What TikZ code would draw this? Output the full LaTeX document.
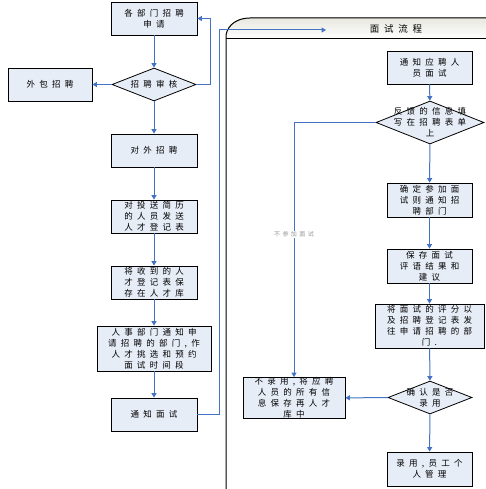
\documentclass[tikz,border=0pt]{standalone}
\usepackage{fontspec}
\newfontfamily\cjk[LetterSpace=50]{Noto Sans CJK SC}
\newfontfamily\cjklab[LetterSpace=40]{Noto Sans CJK SC}
\usetikzlibrary{arrows.meta,shapes.geometric}
\definecolor{boxfill}{RGB}{231,237,247}
\definecolor{conn}{RGB}{68,114,196}
\definecolor{hdrtop}{RGB}{232,232,224}
\definecolor{labgray}{RGB}{150,150,150}
\begin{document}
\begin{tikzpicture}[x=1pt,y=-1pt,
  txt/.style={font=\cjk\fontsize{8.5}{11}\selectfont, align=center},
  box/.style={txt, draw=black, line width=0.8pt, fill=boxfill, inner sep=0pt},
  dia/.style={diamond, draw=black, line width=0.8pt, fill=boxfill, inner sep=0pt},
  conn/.style={draw=conn, line width=1pt, -{Triangle[length=4.5pt,width=5pt]}},
  pool/.style={draw=black, line width=1pt},
  lab/.style={font=\cjklab\fontsize{6}{7}\selectfont, text=labgray, fill=white, inner sep=1pt}
]
\useasboundingbox (0,0) rectangle (486,489);
\fill[white] (0,0) rectangle (486,489);

% pool
\fill[top color=hdrtop,bottom color=white] (226,39) -- (226,35) .. controls (228,24) and (238,18) .. (250,18) -- (486,18) -- (486,39) -- cycle;
\draw[pool] (226,489) -- (226,35) .. controls (228,24) and (238,18) .. (250,18) -- (486,18);
\draw[pool] (226,39) -- (486,39);
\node[txt, font=\cjk\fontsize{9.5}{11}\selectfont] (hdr) at (396,28.5) {面试流程};

% left column
\node[box, minimum width=86, minimum height=33] (a1) at (154,18.5) {各部门招聘\\申请};
\node[dia, minimum width=84, minimum height=33, label={[txt]center:招聘审核}] (d1) at (154,84.5) {};
\node[box, minimum width=84, minimum height=33] (w) at (50,84.5) {外包招聘};
\node[box, minimum width=86, minimum height=33] (b2) at (154,150.5) {对外招聘};
\node[box, minimum width=86, minimum height=33] (b3) at (154,216.5) {对投送简历\\的人员发送\\人才登记表};
\node[box, minimum width=86, minimum height=33] (b4) at (154,282.5) {将收到的人\\才登记表保\\存在人才库};
\node[box, minimum width=114, minimum height=45] (b5) at (154,348.5) {人事部门通知申\\请招聘的部门,作\\人才挑选和预约\\面试时间段};
\node[box, minimum width=86, minimum height=33] (b6) at (154,414.5) {通知面试};
\coordinate (pend) at (326,30);

% right column
\node[box, minimum width=85, minimum height=33] (c1) at (429.5,67.5) {通知应聘人\\员面试};
\node[dia, minimum width=108, minimum height=43, label={[txt]center:{反馈的信息填\\写在招聘表单\\上}}] (d2) at (430,122.5) {};
\node[box, minimum width=85, minimum height=34] (c2) at (429.5,200) {确定参加面\\试则通知招\\聘部门};
\node[box, minimum width=85, minimum height=34] (c3) at (429.5,266) {保存面试\\评语结果和\\建议};
\node[box, minimum width=109, minimum height=44] (c4) at (429.5,326) {将面试的评分以\\及招聘登记表发\\往申请招聘的部\\门.};
\node[dia, minimum width=84, minimum height=33, label={[txt]center:{确认是否\\录用}}] (d3) at (430,397.5) {};
\node[box, minimum width=102, minimum height=40] (n1) at (294,398) {不录用,将应聘\\人员的所有信\\息保存再人才\\库中};
\node[box, minimum width=85, minimum height=34] (c5) at (429.5,469) {录用,员工个\\人管理};

% connectors left
\draw[conn] (a1) -- (d1);
\draw[conn] (d1) -- (w);
\draw[conn] (d1.east) -- (210,84.5) |- (a1.east);
\draw[conn] (d1) -- (b2);
\draw[conn] (b2) -- (b3);
\draw[conn] (b3) -- (b4);
\draw[conn] (b4) -- (b5);
\draw[conn] (b5) -- (b6);
\draw[conn] (b6.east) -- (219,414.5) -- (219,30) -- (pend);

% connectors right
\draw[conn] (c1) -- (d2);
\draw[conn] (d2) -- (c2);
\draw[conn] (c2) -- (c3);
\draw[conn] (c3) -- (c4);
\draw[conn] (c4) -- (d3);
\draw[conn] (d3) -- (c5);
\draw[conn] (d3) -- (n1);
\draw[conn] (d2.west) -| node[lab, pos=0.72] {不参加面试} (n1.north);
\end{tikzpicture}
\end{document}
